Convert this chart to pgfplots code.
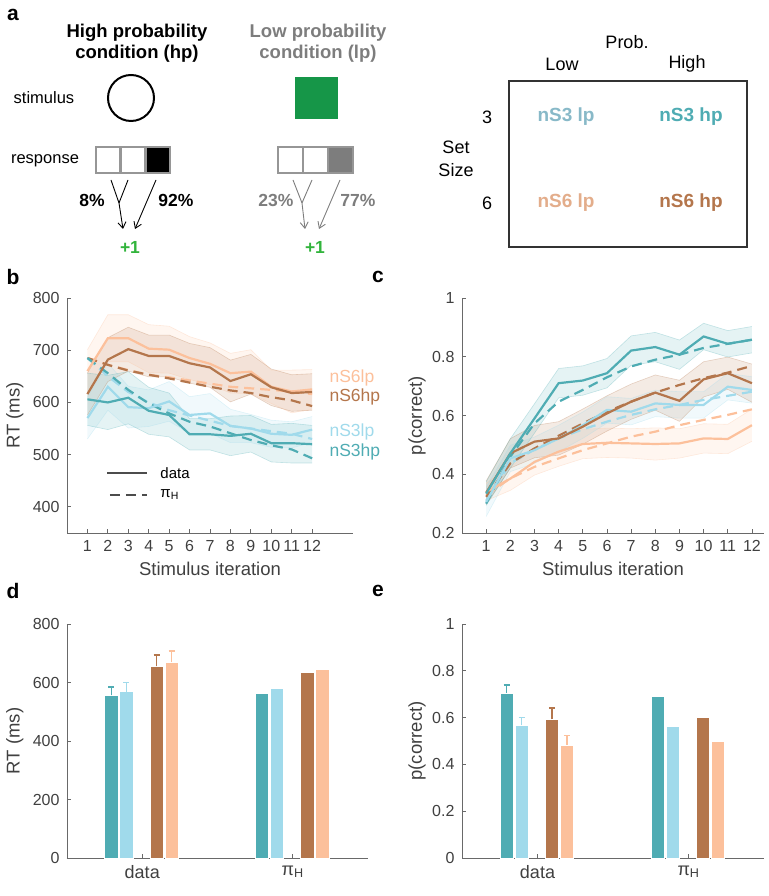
\documentclass[border=0pt]{standalone}
\usepackage{pgfplots}
\pgfplotsset{compat=1.18}
\usepackage{pgfplotstable}
\usepgfplotslibrary{fillbetween}
\usetikzlibrary{arrows.meta}
\usepackage{fontspec}
\setmainfont{Liberation Sans}

\definecolor{cTeal}{RGB}{79,172,179}
\definecolor{cLB}{RGB}{160,218,235}
\definecolor{cBr}{RGB}{180,118,76}
\definecolor{cPe}{RGB}{252,192,155}
\definecolor{txt}{RGB}{64,64,64}
\definecolor{axl}{RGB}{105,105,105}
\definecolor{cGreen}{RGB}{22,150,72}
\definecolor{pGreen}{RGB}{50,180,60}
\definecolor{lpgray}{RGB}{125,125,125}
\definecolor{boxgray}{RGB}{150,150,150}

\newcommand{\fs}[1]{\fontsize{#1}{#1}\selectfont}

% RT per stimulus iteration: mean and half-width of band (t=nS3hp, l=nS3lp, b=nS6hp, p=nS6lp)
\pgfplotstableread{
x  t   te  l   le  b   be  p   pe
1  606 50  570 40  616 40  660 41
2  600 52  630 45  682 42  723 45
3  609 50  591 40  702 42  723 45
4  584 45  589 35  689 40  703 46
5  576 42  602 38  689 40  701 45
6  539 30  576 35  675 38  685 41
7  539 30  579 38  667 38  674 40
8  536 38  555 32  641 40  656 38
9  540 35  550 27  654 38  659 42
10 522 36  540 26  629 35  630 32
11 522 38  538 25  618 35  621 41
12 520 36  548 25  620 35  625 38
}\rtdata
\pgfplotstableread{
x  t   l   b   p
1  685 685 685 685
2  656 650 672 672
3  624 620 661 662
4  598 600 653 653
5  579 585 646 648
6  563 575 638 642
7  554 565 630 636
8  541 555 623 630
9  528 550 618 627
10 518 545 610 624
11 510 540 604 621
12 493 530 593 616
}\rtmodel
% p(correct) per stimulus iteration
\pgfplotstableread{
x  t     te    l     le    b     be    p     pe
1  0.334 0.040 0.306 0.050 0.337 0.040 0.340 0.030
2  0.471 0.050 0.454 0.045 0.471 0.050 0.385 0.040
3  0.590 0.050 0.482 0.045 0.511 0.055 0.442 0.045
4  0.710 0.050 0.522 0.045 0.522 0.057 0.477 0.050
5  0.719 0.050 0.567 0.045 0.562 0.060 0.503 0.050
6  0.744 0.050 0.619 0.045 0.607 0.060 0.507 0.050
7  0.821 0.050 0.613 0.045 0.647 0.060 0.505 0.050
8  0.833 0.050 0.641 0.045 0.678 0.060 0.503 0.055
9  0.807 0.050 0.636 0.045 0.650 0.070 0.505 0.050
10 0.869 0.045 0.636 0.045 0.723 0.060 0.522 0.050
11 0.844 0.045 0.698 0.045 0.744 0.055 0.520 0.050
12 0.858 0.045 0.687 0.045 0.710 0.065 0.567 0.055
}\pcdata
\pgfplotstableread{
x  t     l     b     p
1  0.300 0.310 0.323 0.329
2  0.460 0.437 0.437 0.386
3  0.573 0.484 0.488 0.425
4  0.647 0.522 0.531 0.454
5  0.687 0.553 0.573 0.482
6  0.730 0.579 0.613 0.505
7  0.767 0.602 0.647 0.528
8  0.790 0.621 0.678 0.545
9  0.807 0.636 0.704 0.567
10 0.830 0.653 0.727 0.585
11 0.844 0.667 0.746 0.602
12 0.858 0.681 0.769 0.621
}\pcmodel

\pgfplotsset{
  panel/.style={
    scale only axis,
    axis lines*=left,
    axis line style={axl, line width=0.8pt},
    tick align=inside,
    major tick length=4pt,
    tick style={axl, line width=0.8pt},
    tick label style={font=\fs{16}, text=txt},
    xticklabel style={yshift=-4pt},
    yticklabel style={xshift=-4pt},
    label style={font=\fs{18.5}, text=txt},
    /pgf/number format/assume math mode=true,
    clip=false,
  },
  band/.style={draw=#1, draw opacity=0.3, line width=0.6pt, forget plot},
  bandfill/.style={fill=#1, fill opacity=0.15, draw=none, forget plot},
  dline/.style={draw=#1, line width=2.2pt},
  mline/.style={draw=#1, line width=2.2pt, dash pattern=on 10pt off 6pt},
  bars/.style={
    every axis plot/.append style={ybar, bar width=0.09, bar shift=0pt, draw=white, line width=0.5pt},
  },
  ebar/.style={error bars/.cd, y dir=plus, y explicit, error mark=-,
    error bar style={draw=#1, line width=1.6pt},
    error mark options={rotate=90, draw=#1, line width=1.6pt, mark size=3pt}},
}

% draws the shaded band of one series: #1 table, #2 column, #3 colour
\newcommand{\bandof}[3]{%
  \addplot[band=#3, name path=#2u] table[x=x, y expr=\thisrow{#2}+\thisrow{#2e}] {#1};
  \addplot[band=#3, name path=#2l] table[x=x, y expr=\thisrow{#2}-\thisrow{#2e}] {#1};
  \addplot[bandfill=#3] fill between[of=#2u and #2l];
}

\begin{document}
\begin{tikzpicture}[x=1pt, y=1pt]

% ---------------- panel a ----------------
\node[font=\fs{21}\bfseries] at (13,881) {a};
\node[font=\fs{18.5}\bfseries] at (137,863) {High probability};
\node[font=\fs{18.5}\bfseries] at (137,842) {condition (hp)};
\node[font=\fs{18.5}\bfseries, text=lpgray] at (318,863) {Low probability};
\node[font=\fs{18.5}\bfseries, text=lpgray] at (318,842) {condition (lp)};
\node[font=\fs{16.5}] at (44,798) {stimulus};
\node[font=\fs{16.5}] at (45,735) {response};
\draw[line width=2pt] (131,798) circle (23);
\fill[cGreen] (295,777) rectangle (338,819);
% response boxes
\draw[line width=2.5pt, boxgray, fill=white] (96,723) rectangle (120.7,749);
\draw[line width=2.5pt, boxgray, fill=white] (120.7,723) rectangle (145.3,749);
\draw[line width=2.5pt, boxgray, fill=black] (145.3,723) rectangle (170,749);
\draw[line width=2.5pt, boxgray, fill=white] (278,723) rectangle (303,749);
\draw[line width=2.5pt, boxgray, fill=white] (303,723) rectangle (328,749);
\draw[line width=2.5pt, boxgray, fill=lpgray] (328,723) rectangle (353,749);
% arrows
\draw[line width=0.9pt] (111,716) -- (119,693);
\draw[line width=0.9pt] (128,716) -- (119,693);
\draw[line width=0.9pt, -{Straight Barb[length=6pt,width=8pt]}] (119,693) -- (123,667);
\draw[line width=0.9pt, -{Straight Barb[length=6pt,width=8pt]}] (156,716) -- (135,667);
\draw[line width=0.9pt, lpgray] (293,716) -- (302,693);
\draw[line width=0.9pt, lpgray] (312,716) -- (302,693);
\draw[line width=0.9pt, lpgray, -{Straight Barb[length=6pt,width=8pt]}] (302,693) -- (305,667);
\draw[line width=0.9pt, lpgray, -{Straight Barb[length=6pt,width=8pt]}] (340,716) -- (319,667);
\node[font=\fs{17.5}\bfseries] at (92,696) {8\%};
\node[font=\fs{17.5}\bfseries] at (176,696) {92\%};
\node[font=\fs{17.5}\bfseries, text=lpgray] at (276,696) {23\%};
\node[font=\fs{17.5}\bfseries, text=lpgray] at (358,696) {77\%};
\node[font=\fs{17.5}\bfseries, text=pGreen] at (130,649) {+1};
\node[font=\fs{17.5}\bfseries, text=pGreen] at (315,649) {+1};
% design table
\node[font=\fs{18}] at (627,854) {Prob.};
\node[font=\fs{18}] at (562,832) {Low};
\node[font=\fs{18}] at (687,832) {High};
\draw[line width=1.2pt, black!80] (509,649) rectangle (747,815);
\node[font=\fs{18}] at (487,779) {3};
\node[font=\fs{18}] at (487,693) {6};
\node[font=\fs{18}] at (456,749) {Set};
\node[font=\fs{18}] at (456,726) {Size};
\node[font=\fs{19}\bfseries, text=cLB!85!black] at (566,779) {nS3 lp};
\node[font=\fs{19}\bfseries, text=cTeal] at (691,779) {nS3 hp};
\node[font=\fs{19}\bfseries, text=cPe!90!black] at (566,693) {nS6 lp};
\node[font=\fs{19}\bfseries, text=cBr] at (691,693) {nS6 hp};

% panel letters
\node[font=\fs{21}\bfseries] at (13,619) {b};
\node[font=\fs{21}\bfseries] at (378,619) {c};
\node[font=\fs{21}\bfseries] at (13,305) {d};
\node[font=\fs{21}\bfseries] at (378,305) {e};

% ---------------- panel b ----------------
\begin{axis}[panel, at={(67pt,363pt)}, anchor=south west,
  width=286pt, height=235pt,
  xmin=0, xmax=14, ymin=350, ymax=800,
  xtick={1,...,12}, ytick={400,500,600,700,800},
  xlabel={Stimulus iteration}, ylabel={RT (ms)},
  xlabel style={at={(axis description cs:0.5,0)}, anchor=center, yshift=-36pt},
  ylabel style={at={(axis description cs:-0.182,0.5)}, anchor=center},
]
\bandof{\rtdata}{p}{cPe}
\bandof{\rtdata}{b}{cBr}
\bandof{\rtdata}{l}{cLB}
\bandof{\rtdata}{t}{cTeal}
\addplot[mline=cPe] table[x=x, y=p] {\rtmodel};
\addplot[mline=cBr] table[x=x, y=b] {\rtmodel};
\addplot[mline=cLB] table[x=x, y=l] {\rtmodel};
\addplot[mline=cTeal] table[x=x, y=t] {\rtmodel};
\addplot[dline=cPe] table[x=x, y=p] {\rtdata};
\addplot[dline=cBr] table[x=x, y=b] {\rtdata};
\addplot[dline=cLB] table[x=x, y=l] {\rtdata};
\addplot[dline=cTeal] table[x=x, y=t] {\rtdata};
% legend
\draw[line width=2.2pt, black!70] (axis cs:1.96,465) -- (axis cs:3.92,465);
\draw[line width=2.2pt, black!70, dash pattern=on 10pt off 6pt] (axis cs:2.1,423) -- (axis cs:3.92,423);
\node[font=\fs{15}, anchor=west] at (axis cs:4.4,465) {data};
\node[font=\fs{15}, anchor=west] at (axis cs:4.4,423) {π\textsubscript{H}};
\node[font=\fs{17.5}, anchor=west, text=cPe] at (axis cs:12.68,647) {nS6lp};
\node[font=\fs{17.5}, anchor=west, text=cBr] at (axis cs:12.68,610) {nS6hp};
\node[font=\fs{17.5}, anchor=west, text=cLB] at (axis cs:12.68,543) {nS3lp};
\node[font=\fs{17.5}, anchor=west, text=cTeal] at (axis cs:12.68,505) {nS3hp};
\end{axis}

% ---------------- panel c ----------------
\begin{axis}[panel, at={(462pt,363pt)}, anchor=south west,
  width=302pt, height=235pt,
  xmin=0, xmax=12.5, ymin=0.2, ymax=1,
  xtick={1,...,12}, ytick={0.2,0.4,0.6,0.8,1},
  xlabel={Stimulus iteration}, ylabel={p(correct)},
  xlabel style={at={(axis description cs:0.5,0)}, anchor=center, yshift=-36pt},
  ylabel style={at={(axis description cs:-0.149,0.5)}, anchor=center},
]
\bandof{\pcdata}{p}{cPe}
\bandof{\pcdata}{l}{cLB}
\bandof{\pcdata}{b}{cBr}
\bandof{\pcdata}{t}{cTeal}
\addplot[mline=cPe] table[x=x, y=p] {\pcmodel};
\addplot[mline=cLB] table[x=x, y=l] {\pcmodel};
\addplot[mline=cBr] table[x=x, y=b] {\pcmodel};
\addplot[mline=cTeal] table[x=x, y=t] {\pcmodel};
\addplot[dline=cPe] table[x=x, y=p] {\pcdata};
\addplot[dline=cLB] table[x=x, y=l] {\pcdata};
\addplot[dline=cBr] table[x=x, y=b] {\pcdata};
\addplot[dline=cTeal] table[x=x, y=t] {\pcdata};
\end{axis}

% ---------------- panel d ----------------
\begin{axis}[panel, bars, at={(67pt,38pt)}, anchor=south west,
  width=301pt, height=234pt,
  xmin=0.5, xmax=2.5, ymin=0, ymax=800,
  xtick={1,2}, xticklabels={data, π\textsubscript{H}},
  x tick label style={font=\fs{18}},
  ytick={0,200,400,600,800},
  ylabel={RT (ms)},
  ylabel style={at={(axis description cs:-0.173,0.5)}, anchor=center},
]
\addplot[fill=cTeal, ebar=cTeal] coordinates {(0.795,556) +- (0,29)};
\addplot[fill=cLB, ebar=cLB] coordinates {(0.895,569) +- (0,31)};
\addplot[fill=cBr, ebar=cBr] coordinates {(1.095,655) +- (0,39)};
\addplot[fill=cPe, ebar=cPe] coordinates {(1.195,670) +- (0,38)};
\addplot[fill=cTeal] coordinates {(1.795,564)};
\addplot[fill=cLB] coordinates {(1.895,579)};
\addplot[fill=cBr] coordinates {(2.095,636)};
\addplot[fill=cPe] coordinates {(2.195,644)};
\end{axis}

% ---------------- panel e ----------------
\begin{axis}[panel, bars, at={(462pt,38pt)}, anchor=south west,
  width=302pt, height=234pt,
  xmin=0.5, xmax=2.5, ymin=0, ymax=1,
  xtick={1,2}, xticklabels={data, π\textsubscript{H}},
  x tick label style={font=\fs{18}},
  ytick={0,0.2,0.4,0.6,0.8,1},
  ylabel={p(correct)},
  ylabel style={at={(axis description cs:-0.149,0.5)}, anchor=center},
]
\addplot[fill=cTeal, ebar=cTeal] coordinates {(0.795,0.706) +- (0,0.034)};
\addplot[fill=cLB, ebar=cLB] coordinates {(0.895,0.568) +- (0,0.033)};
\addplot[fill=cBr, ebar=cBr] coordinates {(1.095,0.593) +- (0,0.048)};
\addplot[fill=cPe, ebar=cPe] coordinates {(1.195,0.483) +- (0,0.041)};
\addplot[fill=cTeal] coordinates {(1.795,0.692)};
\addplot[fill=cLB] coordinates {(1.895,0.563)};
\addplot[fill=cBr] coordinates {(2.095,0.600)};
\addplot[fill=cPe] coordinates {(2.195,0.500)};
\end{axis}

\pgfresetboundingbox
\path[use as bounding box] (0,0) rectangle (768,896);
\end{tikzpicture}
\end{document}
